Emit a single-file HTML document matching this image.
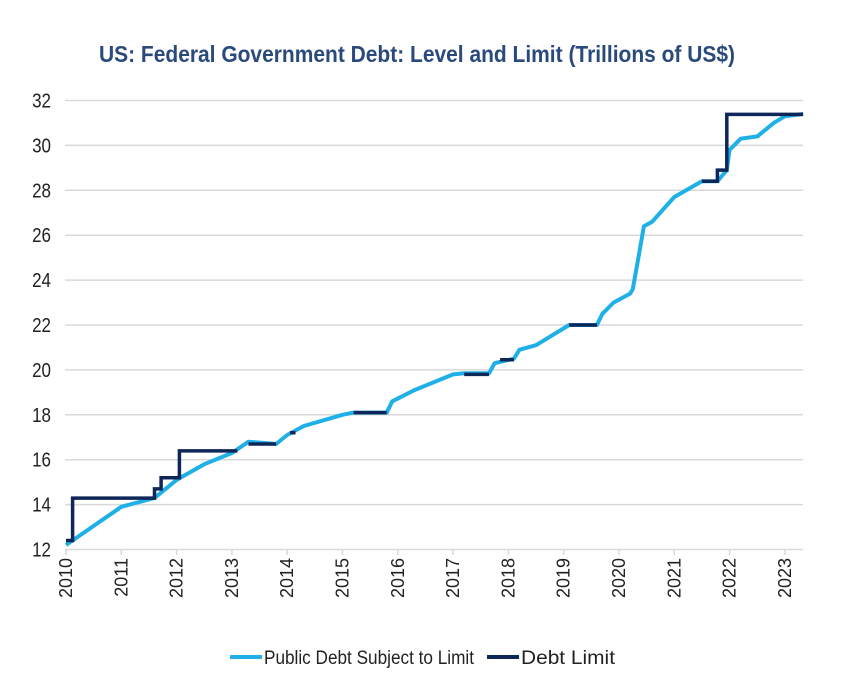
<!DOCTYPE html>
<html><head><meta charset="utf-8"><style>
html,body{margin:0;padding:0;background:#fff}
svg text{font-family:"Liberation Sans Narrow","Liberation Sans",sans-serif}
</style></head><body>
<svg id="s" width="850" height="685" viewBox="0 0 850 685" xmlns="http://www.w3.org/2000/svg">
<rect width="850" height="685" fill="#fff"/>
<text x="417" y="62" text-anchor="middle" font-size="23" font-weight="bold" fill="#2b4a7c" textLength="636" lengthAdjust="spacingAndGlyphs">US: Federal Government Debt: Level and Limit (Trillions of US$)</text>
<g id="grid" stroke="#d9d9d9" stroke-width="1.5"></g>
<g id="yl" font-size="20" fill="#222" text-anchor="end"></g>
<g id="xl" font-size="18" fill="#222" text-anchor="end"></g>
<path id="pub" fill="none" stroke="#1eb0e6" stroke-width="4" stroke-linejoin="round"/>
<path id="lim" fill="none" stroke="#0e2658" stroke-width="3.5"/>
<line x1="230" y1="657" x2="262" y2="657" stroke="#1eb0e6" stroke-width="4"/>
<text x="264" y="664" font-size="19" fill="#222" textLength="210" lengthAdjust="spacingAndGlyphs">Public Debt Subject to Limit</text>
<line x1="487" y1="657" x2="519" y2="657" stroke="#0e2658" stroke-width="4"/>
<text x="521" y="664" font-size="19" fill="#222" textLength="94" lengthAdjust="spacingAndGlyphs">Debt Limit</text>
</svg>
<script>
var NS="http://www.w3.org/2000/svg";
function X(t){return 66+(t-2010)*55.3}
function Y(v){return 549.5-(v-12)*22.45}
var g=document.getElementById('grid'),yl=document.getElementById('yl'),xl=document.getElementById('xl');
for(var v=12;v<=32;v+=2){var l=document.createElementNS(NS,'line');l.setAttribute('x1',65);l.setAttribute('x2',803);l.setAttribute('y1',Y(v));l.setAttribute('y2',Y(v));g.appendChild(l);
var t=document.createElementNS(NS,'text');t.setAttribute('transform','translate(51,'+(Y(v)+7)+') scale(0.85,1)');t.textContent=v;yl.appendChild(t);}
for(var y=2010;y<=2023;y++){var x=X(y);var l=document.createElementNS(NS,'line');l.setAttribute('x1',x);l.setAttribute('x2',x);l.setAttribute('y1',549);l.setAttribute('y2',555);g.appendChild(l);
var t=document.createElementNS(NS,'text');t.setAttribute('transform','translate('+(x+6)+',558) rotate(-90)');t.textContent=y;xl.appendChild(t);}
var P=[[2010,12.2],[2011,13.9],[2011.6,14.3],[2012,15.1],[2012.5,15.8],[2013,16.3],[2013.3,16.8],[2013.8,16.7],[2014,17.1],[2014.3,17.5],[2015,18.0],[2015.2,18.1],[2015.8,18.1],[2015.9,18.6],[2016.3,19.1],[2017,19.8],[2017.2,19.85],[2017.65,19.85],[2017.75,20.3],[2018.1,20.5],[2018.2,20.9],[2018.5,21.1],[2019.1,22.0],[2019.6,22.0],[2019.7,22.5],[2019.9,23.0],[2020.2,23.4],[2020.25,23.6],[2020.35,25.0],[2020.45,26.4],[2020.6,26.6],[2021,27.7],[2021.5,28.4],[2021.78,28.4],[2021.95,28.9],[2022,29.8],[2022.2,30.3],[2022.5,30.4],[2022.8,31.0],[2023,31.3],[2023.33,31.4]];
document.getElementById('pub').setAttribute('d','M'+P.map(function(p){return X(p[0]).toFixed(1)+','+Y(p[1]).toFixed(1)}).join('L'));
function seg(pts){return 'M'+pts.map(function(p){return X(p[0]).toFixed(1)+','+Y(p[1]).toFixed(1)}).join('L')}
var d=seg([[2010,12.4],[2010.12,12.4],[2010.12,14.29],[2011.6,14.29],[2011.6,14.7],[2011.72,14.7],[2011.72,15.2],[2012.05,15.2],[2012.05,16.39],[2013.1,16.39]])
+seg([[2013.3,16.7],[2013.8,16.7]])+seg([[2014.05,17.2],[2014.15,17.2]])
+seg([[2015.2,18.1],[2015.8,18.1]])+seg([[2017.2,19.8],[2017.65,19.8]])
+seg([[2017.85,20.45],[2018.1,20.45]])+seg([[2019.1,22.0],[2019.6,22.0]])
+seg([[2021.5,28.4],[2021.78,28.4],[2021.78,28.9],[2021.95,28.9],[2021.95,31.38],[2023.33,31.38]]);
document.getElementById('lim').setAttribute('d',d);
</script>
</body></html>
